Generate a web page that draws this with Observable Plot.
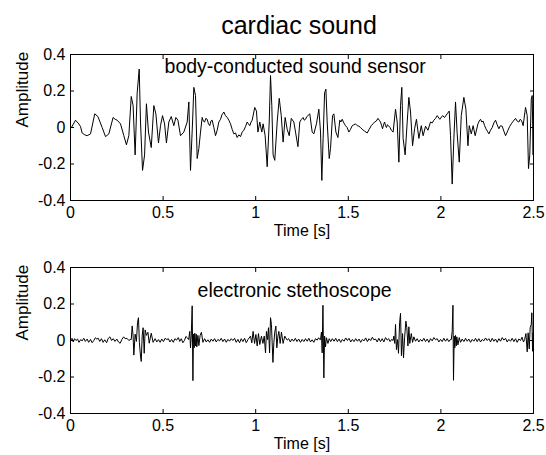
<!DOCTYPE html>
<html><head><meta charset="utf-8">
<script src="https://cdn.jsdelivr.net/npm/d3@7"></script>
<script src="https://cdn.jsdelivr.net/npm/@observablehq/plot@0.6"></script>
<style>
html,body{margin:0;padding:0;background:#fff;}
#chart{width:546px;height:455px;}
#chart svg{display:block;}
</style></head><body><div id="chart"></div>
<script>
const title = "cardiac sound";
const xLabel = "Time [s]";
const yLabel = "Amplitude";
const xTicks = [0, 0.5, 1, 1.5, 2, 2.5];
const yTicks = [-0.4, -0.2, 0, 0.2, 0.4];
const panelNames = ["body-conducted sound sensor", "electronic stethoscope"];

// [time s, amplitude]
const bodyConducted = [[0,-0.005],[0.005,0],[0.027,0.04],[0.036,0.03],[0.045,0.02],[0.054,0.005],[0.063,-0.03],[0.077,-0.04],[0.09,-0.045],[0.108,-0.035],[0.131,0.075],[0.148,0.06],[0.171,0],[0.189,-0.05],[0.207,-0.035],[0.23,0.055],[0.241,0.045],[0.252,0.04],[0.27,0.02],[0.288,-0.045],[0.302,-0.095],[0.315,-0.045],[0.328,0.17],[0.338,0.12],[0.349,-0.15],[0.36,0.19],[0.371,0.32],[0.378,0.03],[0.389,-0.235],[0.4,-0.15],[0.41,0.13],[0.421,-0.025],[0.436,-0.11],[0.45,0.12],[0.461,0.075],[0.475,-0.085],[0.486,0.01],[0.497,0.065],[0.508,0.02],[0.518,-0.085],[0.531,0.03],[0.544,0.06],[0.558,0.01],[0.569,0.055],[0.58,0.04],[0.594,-0.045],[0.612,-0.025],[0.63,0.03],[0.639,0.14],[0.648,-0.235],[0.659,0.03],[0.666,0.22],[0.675,0.175],[0.684,-0.17],[0.693,-0.115],[0.702,-0.025],[0.711,0.055],[0.717,0.035],[0.724,0.03],[0.731,0.05],[0.738,0.045],[0.745,0.02],[0.752,0.01],[0.758,0.035],[0.765,0.04],[0.774,0],[0.783,-0.045],[0.792,-0.015],[0.801,0.03],[0.81,0.045],[0.818,0.07],[0.828,0.085],[0.837,0.065],[0.846,0.055],[0.855,0.04],[0.864,0.02],[0.873,-0.01],[0.882,-0.035],[0.891,-0.03],[0.9,-0.055],[0.909,-0.04],[0.918,-0.05],[0.927,-0.025],[0.936,-0.015],[0.945,0.005],[0.954,0.03],[0.961,0.02],[0.968,0.01],[0.975,0.03],[0.981,0.04],[0.995,0.11],[1.004,0.09],[1.012,-0.025],[1.022,0.03],[1.033,-0.025],[1.04,0.02],[1.051,-0.045],[1.062,-0.215],[1.073,0.03],[1.08,0.285],[1.087,0.12],[1.094,-0.15],[1.103,-0.18],[1.116,0.03],[1.127,0.16],[1.138,0.065],[1.148,-0.08],[1.159,0.055],[1.17,-0.01],[1.181,-0.045],[1.192,0.05],[1.206,0.03],[1.215,-0.025],[1.228,-0.105],[1.238,0.03],[1.247,0.045],[1.256,0.055],[1.262,0.04],[1.269,0.045],[1.276,0.06],[1.282,0.065],[1.292,0.075],[1.305,-0.025],[1.314,-0.035],[1.328,0.02],[1.341,0.1],[1.35,-0.025],[1.357,-0.29],[1.364,-0.06],[1.372,0.19],[1.379,0.21],[1.386,0.03],[1.397,-0.17],[1.404,-0.115],[1.415,0.065],[1.422,0.075],[1.433,-0.025],[1.444,-0.055],[1.454,0.04],[1.46,0.03],[1.467,0.045],[1.476,0.025],[1.485,0.01],[1.494,0],[1.503,-0.025],[1.512,-0.01],[1.521,0.01],[1.53,0.015],[1.539,0.02],[1.548,0.01],[1.557,0.007],[1.566,0],[1.575,-0.01],[1.588,-0.02],[1.602,-0.03],[1.613,-0.01],[1.624,0.01],[1.633,0.02],[1.642,0.03],[1.651,0.035],[1.66,0.05],[1.667,0.04],[1.674,0.03],[1.68,0.01],[1.685,-0.007],[1.69,0.015],[1.696,0.03],[1.701,0.01],[1.706,0],[1.711,0.015],[1.717,0.01],[1.725,0],[1.732,-0.015],[1.742,-0.025],[1.755,0.1],[1.764,0.03],[1.773,-0.19],[1.782,0.12],[1.789,0.22],[1.796,-0.06],[1.807,-0.15],[1.818,0.03],[1.827,0.165],[1.836,0.085],[1.847,-0.1],[1.858,-0.007],[1.868,0.045],[1.881,-0.06],[1.894,0.01],[1.904,-0.045],[1.917,0.007],[1.93,-0.015],[1.944,0.03],[1.953,0.025],[1.962,0.04],[1.971,0.05],[1.98,0.065],[1.994,0.045],[2.009,0.065],[2.02,0.055],[2.034,0.075],[2.045,0.09],[2.052,-0.045],[2.061,-0.31],[2.07,-0.06],[2.079,0.14],[2.088,-0.035],[2.099,-0.19],[2.11,0.065],[2.124,0.165],[2.135,0.1],[2.146,-0.1],[2.153,0.01],[2.164,-0.035],[2.174,0.01],[2.185,-0.045],[2.2,0.02],[2.207,0.035],[2.214,0.045],[2.221,0.03],[2.228,0.035],[2.236,0.01],[2.243,-0.007],[2.251,-0.02],[2.259,-0.035],[2.268,-0.015],[2.277,0],[2.286,0.025],[2.295,0.04],[2.304,0.015],[2.313,-0.007],[2.322,0.01],[2.331,0.007],[2.34,-0.02],[2.349,-0.045],[2.356,-0.03],[2.362,-0.015],[2.371,0.005],[2.38,0.02],[2.391,0.035],[2.403,0.05],[2.412,0.035],[2.421,0.03],[2.428,0.045],[2.434,0.04],[2.44,0.025],[2.444,0.01],[2.457,0.11],[2.466,0.065],[2.473,-0.225],[2.48,-0.15],[2.488,0.155],[2.493,0.175],[2.498,-0.15],[2.5,0]];

const stethoscope = [[0,0],[0.008,0.012],[0.015,-0.008],[0.022,0.01],[0.03,0],[0.038,0.008],[0.046,-0.01],[0.055,0.005],[0.063,-0.002],[0.072,0.012],[0.08,-0.005],[0.09,0.008],[0.098,-0.01],[0.108,0.006],[0.117,-0.012],[0.126,0],[0.134,0.015],[0.142,0.008],[0.15,0.012],[0.158,-0.005],[0.167,0.01],[0.176,-0.01],[0.185,0.004],[0.195,-0.012],[0.204,0.012],[0.213,0.02],[0.222,0],[0.231,0.01],[0.24,-0.005],[0.25,0.008],[0.259,-0.008],[0.268,-0.015],[0.277,0.005],[0.287,0.02],[0.295,0.01],[0.305,0.012],[0.315,0],[0.322,0.005],[0.328,0.005],[0.333,0.08],[0.338,0.025],[0.342,-0.08],[0.349,0.035],[0.356,-0.005],[0.362,0.1],[0.367,0.125],[0.372,-0.012],[0.378,-0.085],[0.382,-0.115],[0.387,0.025],[0.392,0.07],[0.398,-0.07],[0.403,0.058],[0.41,0.028],[0.418,0.045],[0.425,-0.015],[0.436,0.04],[0.446,-0.01],[0.457,0.01],[0.466,-0.008],[0.475,0.005],[0.484,-0.01],[0.493,0.008],[0.502,-0.006],[0.511,0.012],[0.52,0.005],[0.528,0.01],[0.537,-0.008],[0.546,0.006],[0.555,-0.01],[0.564,0.01],[0.573,0.002],[0.582,0.016],[0.59,-0.005],[0.598,0.01],[0.607,-0.012],[0.615,0],[0.623,0.022],[0.631,0.015],[0.638,0.005],[0.644,0.05],[0.648,-0.04],[0.652,0.025],[0.657,0.19],[0.661,-0.22],[0.664,0.035],[0.668,-0.04],[0.671,0.04],[0.675,-0.03],[0.679,0.035],[0.682,-0.035],[0.688,0.028],[0.693,-0.028],[0.7,0.028],[0.707,0.045],[0.715,-0.01],[0.724,0.01],[0.733,-0.008],[0.742,0.004],[0.751,-0.01],[0.76,0.008],[0.769,-0.004],[0.778,0.01],[0.787,-0.008],[0.796,0.006],[0.805,-0.002],[0.814,0.012],[0.823,-0.006],[0.832,0.008],[0.841,-0.01],[0.85,0.006],[0.859,-0.004],[0.868,0.01],[0.877,0],[0.886,0.012],[0.895,-0.01],[0.904,0.006],[0.913,-0.012],[0.922,0.01],[0.931,-0.006],[0.94,0.012],[0.949,-0.012],[0.958,0.005],[0.972,0.024],[0.979,-0.013],[0.986,0.05],[0.994,-0.016],[1.001,0.033],[1.008,-0.03],[1.015,0.038],[1.022,-0.022],[1.031,0.024],[1.039,-0.016],[1.046,0.024],[1.053,-0.068],[1.058,0.05],[1.064,0.005],[1.069,0.07],[1.075,-0.068],[1.08,0.125],[1.085,0.088],[1.093,-0.12],[1.098,-0.013],[1.103,0.046],[1.109,0.079],[1.114,-0.04],[1.12,0.024],[1.125,0.05],[1.132,-0.016],[1.139,0.046],[1.148,-0.016],[1.157,0.024],[1.17,0.002],[1.178,0.01],[1.187,-0.008],[1.196,0.008],[1.205,-0.004],[1.214,0.012],[1.223,-0.006],[1.232,0.008],[1.242,-0.01],[1.251,0.006],[1.26,-0.006],[1.269,0.01],[1.278,-0.004],[1.287,0.012],[1.296,-0.008],[1.305,0.004],[1.314,-0.01],[1.323,0.01],[1.332,0.002],[1.34,0.015],[1.346,0.005],[1.35,0.005],[1.355,0.046],[1.359,-0.068],[1.363,0.193],[1.368,-0.205],[1.372,0.024],[1.377,-0.035],[1.382,0.015],[1.39,-0.016],[1.397,0.01],[1.405,-0.006],[1.414,0.01],[1.423,-0.004],[1.432,0.012],[1.441,-0.006],[1.45,0.008],[1.459,-0.01],[1.468,0.006],[1.477,-0.004],[1.486,0.014],[1.495,0],[1.504,0.012],[1.513,-0.008],[1.522,0.006],[1.531,-0.006],[1.54,0.01],[1.549,-0.004],[1.558,0.008],[1.567,-0.01],[1.576,0.006],[1.585,-0.002],[1.594,0.014],[1.603,-0.006],[1.612,0.01],[1.621,0],[1.63,0.018],[1.638,0.004],[1.647,0.008],[1.656,-0.008],[1.665,0.012],[1.674,-0.006],[1.683,0.01],[1.692,-0.008],[1.701,0.016],[1.71,0.002],[1.718,0.01],[1.726,-0.006],[1.734,0.006],[1.742,0],[1.746,0.024],[1.751,-0.016],[1.755,0.088],[1.76,-0.05],[1.766,0.005],[1.771,-0.07],[1.777,0.097],[1.782,0.149],[1.787,-0.083],[1.793,0.038],[1.798,-0.095],[1.804,0.015],[1.811,0.106],[1.816,0.07],[1.822,-0.03],[1.827,0.075],[1.832,-0.016],[1.84,0.038],[1.847,-0.01],[1.854,0.02],[1.863,-0.004],[1.872,0.01],[1.881,-0.008],[1.89,0.006],[1.899,-0.004],[1.908,0.012],[1.917,-0.006],[1.926,0.008],[1.935,-0.01],[1.944,0.01],[1.953,-0.002],[1.962,0.016],[1.971,0.004],[1.98,0.01],[1.989,-0.008],[1.998,0.006],[2.007,-0.006],[2.016,0.012],[2.025,-0.004],[2.034,0.01],[2.043,-0.006],[2.05,0.004],[2.056,0.005],[2.061,0.05],[2.065,0.193],[2.068,-0.218],[2.072,0.024],[2.075,-0.04],[2.079,0.028],[2.083,-0.03],[2.086,0.02],[2.092,-0.024],[2.099,0.016],[2.106,-0.01],[2.115,0.008],[2.124,-0.006],[2.133,0.012],[2.142,-0.004],[2.151,0.008],[2.16,-0.01],[2.169,0.006],[2.178,-0.004],[2.187,0.012],[2.196,-0.006],[2.205,0.01],[2.214,-0.008],[2.223,0.006],[2.232,-0.002],[2.241,0.014],[2.25,0],[2.259,0.01],[2.268,-0.008],[2.277,0.012],[2.286,-0.004],[2.295,0.008],[2.304,-0.01],[2.313,0.01],[2.322,-0.004],[2.331,0.016],[2.34,0.002],[2.349,0.012],[2.358,-0.008],[2.367,0.006],[2.376,-0.004],[2.385,0.012],[2.394,-0.006],[2.403,0.01],[2.412,-0.01],[2.421,0.008],[2.43,0],[2.438,0.018],[2.446,-0.008],[2.452,0.005],[2.459,0.038],[2.466,-0.062],[2.471,0.042],[2.477,-0.046],[2.482,0.07],[2.488,0.088],[2.491,0.152],[2.495,-0.059],[2.498,0.042],[2.5,-0.016]];

const FONT = "'Liberation Sans', Arial, Helvetica, sans-serif";

function panel(signal, name, nameX, nameY, opts) {
  const marks = [];
  if (opts.title) {
    marks.push(Plot.text([title], {text: d => d, frameAnchor: "top", dy: -21, dx: -3, lineAnchor: "bottom", fontSize: 25, fill: "black"}));
  }
  marks.push(
    Plot.line(signal, {x: d => d[0], y: d => d[1], stroke: "black", strokeWidth: 1}),
    Plot.frame({stroke: "black", strokeWidth: 1}),
    Plot.axisX(xTicks, {anchor: "bottom", tickSize: -4, tickPadding: 10, tickFormat: d => String(d), label: null, fontSize: 16, stroke: "black", fill: "black"}),
    Plot.axisX(xTicks, {anchor: "top", tickSize: -4, tickFormat: () => "", label: null, stroke: "black"}),
    Plot.axisY(yTicks, {anchor: "left", tickSize: -4, tickPadding: 9, tickFormat: d => String(d), label: null, fontSize: 16, stroke: "black", fill: "black"}),
    Plot.axisY(yTicks, {anchor: "right", tickSize: -4, tickFormat: () => "", label: null, stroke: "black"}),
    Plot.text([xLabel], {text: d => d, frameAnchor: "bottom", dy: 35, lineAnchor: "bottom", fontSize: 16, fill: "black"}),
    Plot.text([yLabel], {text: d => d, frameAnchor: "left", dx: -43, rotate: -90, lineAnchor: "bottom", fontSize: 17, fill: "black"}),
    Plot.text([name], {text: d => d, x: () => nameX, y: () => nameY, textAnchor: "start", lineAnchor: "bottom", fontSize: 19.5, fill: "black"})
  );
  return Plot.plot({
    width: 546,
    height: opts.height,
    marginLeft: 70,
    marginRight: 13,
    marginTop: opts.marginTop,
    marginBottom: 42,
    style: {fontFamily: FONT, fontSize: "16px", color: "black", background: "white", overflow: "visible"},
    x: {domain: [0, 2.5]},
    y: {domain: [-0.4, 0.4]},
    marks
  });
}

const chart = document.getElementById("chart");
chart.appendChild(panel(bodyConducted, panelNames[0], 0.508, 0.296, {title: true, height: 242, marginTop: 54}));
chart.appendChild(panel(stethoscope, panelNames[1], 0.686, 0.236, {title: false, height: 213, marginTop: 25}));
</script>
</body></html>
